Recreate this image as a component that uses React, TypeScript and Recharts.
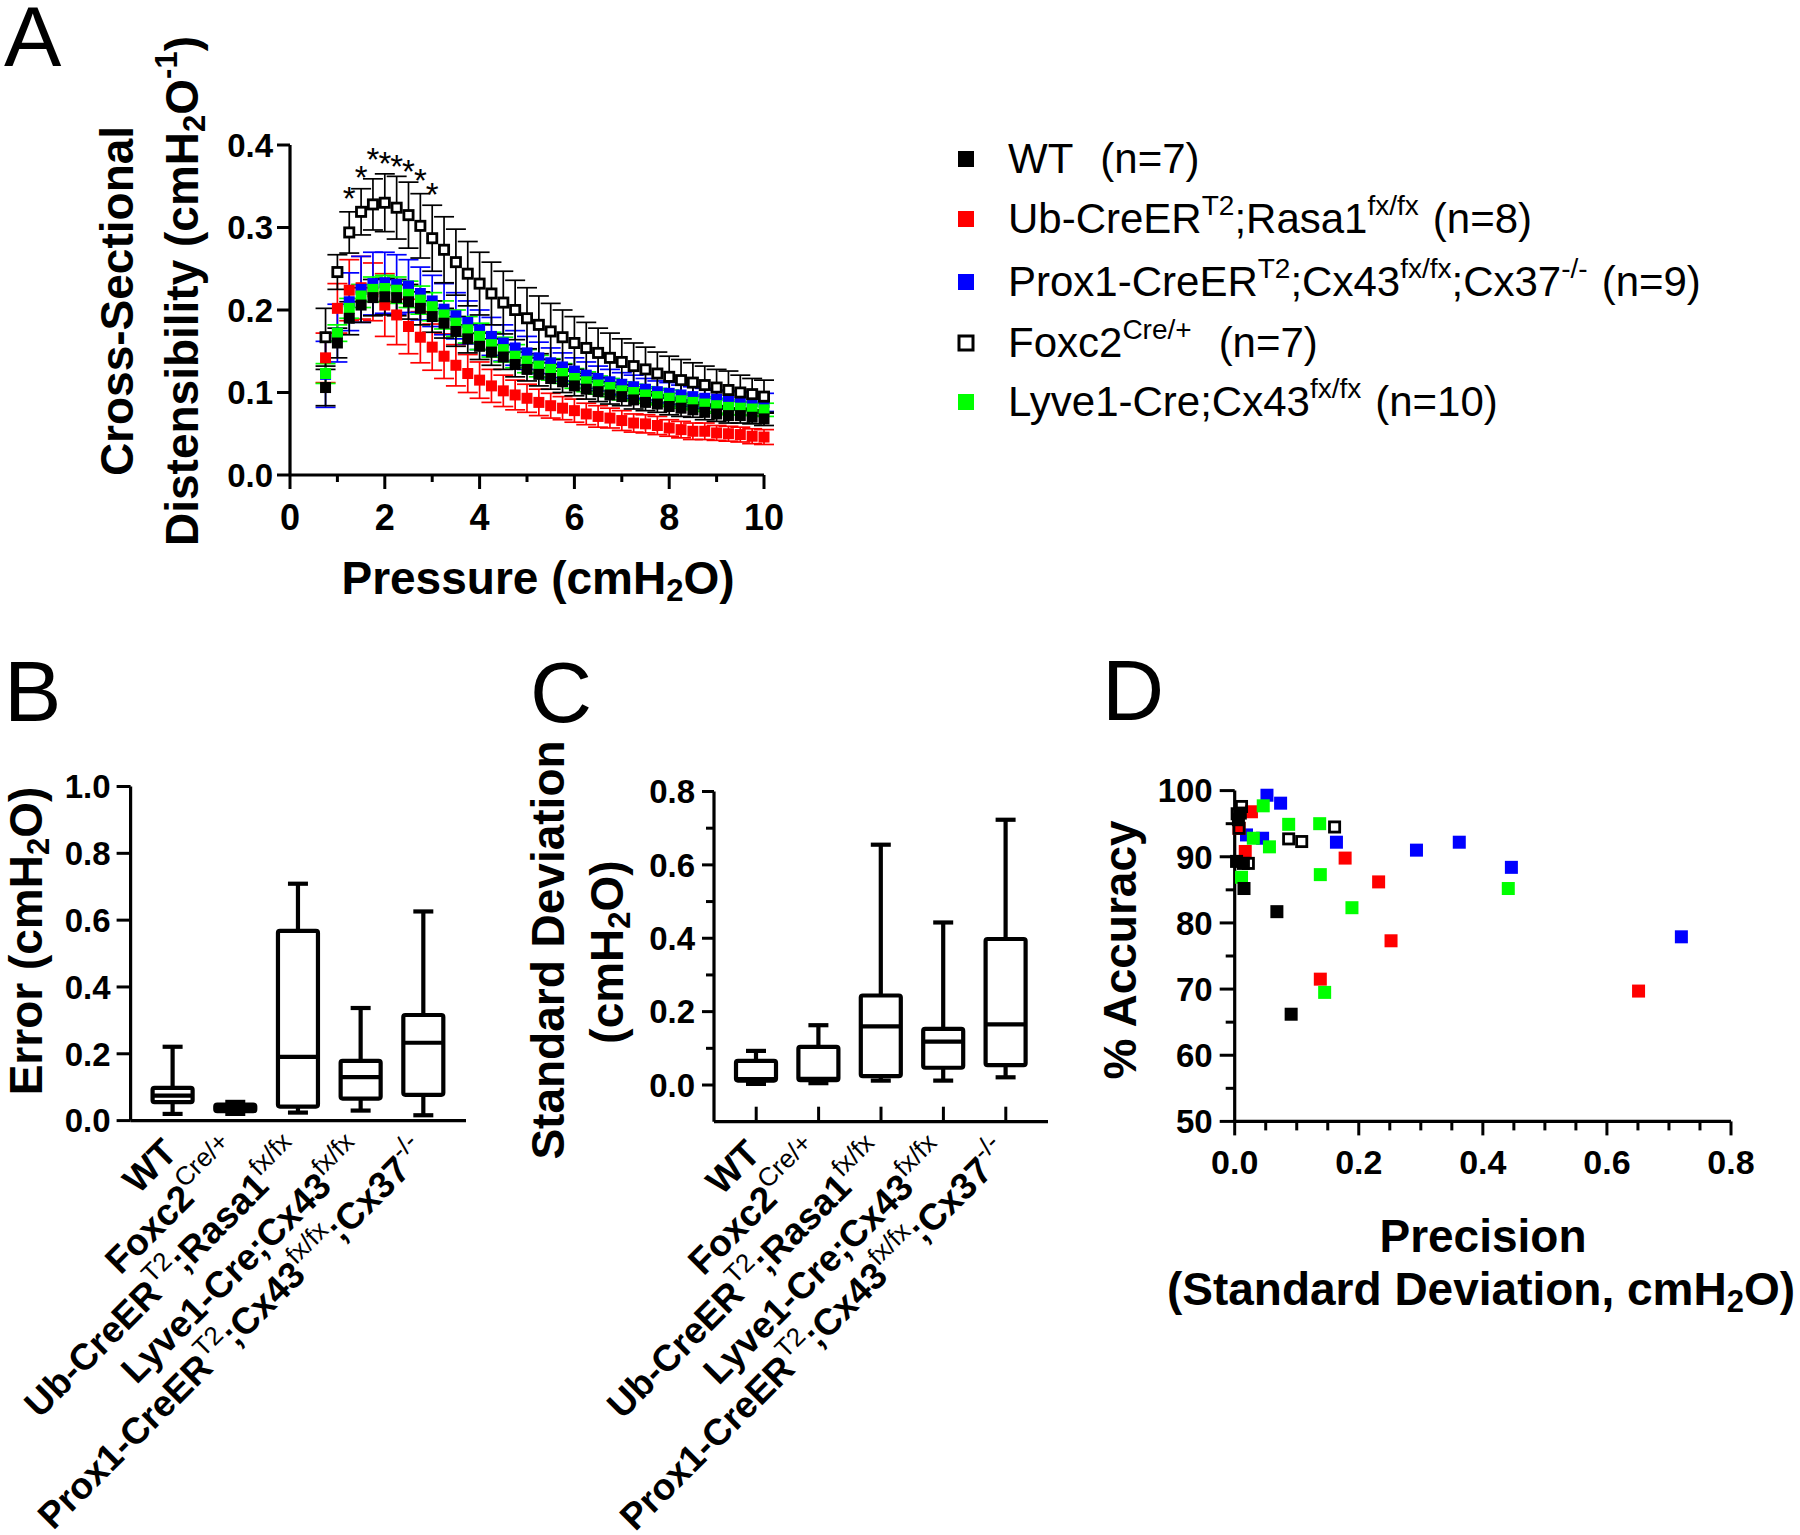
import React from 'react';
import { ScatterChart, Scatter, XAxis, YAxis, ErrorBar, BarChart, Bar } from 'recharts';

const FONT = "'Liberation Sans', Arial, Helvetica, sans-serif";
const BLACK = '#000000';
const RED = '#FF0000';
const BLUE = '#0000FF';
const GREEN = '#00FF00';

// ---------- Panel A data ----------
const pressure = [0.75, 1, 1.25, 1.5, 1.75, 2, 2.25, 2.5, 2.75, 3, 3.25, 3.5, 3.75, 4, 4.25, 4.5, 4.75, 5, 5.25, 5.5, 5.75, 6, 6.25, 6.5, 6.75, 7, 7.25, 7.5, 7.75, 8, 8.25, 8.5, 8.75, 9, 9.25, 9.5, 9.75, 10];
const wtMean = [0.106, 0.160, 0.190, 0.206, 0.215, 0.216, 0.215, 0.210, 0.202, 0.192, 0.184, 0.174, 0.165, 0.156, 0.149, 0.143, 0.134, 0.128, 0.122, 0.117, 0.113, 0.108, 0.104, 0.101, 0.097, 0.095, 0.091, 0.088, 0.086, 0.083, 0.081, 0.079, 0.076, 0.074, 0.072, 0.072, 0.070, 0.068];
const wtSem = [0.022, 0.018, 0.020, 0.021, 0.022, 0.022, 0.022, 0.021, 0.020, 0.019, 0.018, 0.018, 0.017, 0.016, 0.016, 0.015, 0.015, 0.014, 0.014, 0.013, 0.013, 0.012, 0.012, 0.012, 0.011, 0.011, 0.011, 0.010, 0.010, 0.010, 0.010, 0.009, 0.009, 0.009, 0.009, 0.009, 0.008, 0.008];
const ubMean = [0.142, 0.202, 0.224, 0.227, 0.222, 0.206, 0.194, 0.180, 0.167, 0.155, 0.144, 0.133, 0.123, 0.115, 0.108, 0.102, 0.097, 0.093, 0.088, 0.084, 0.081, 0.078, 0.074, 0.071, 0.069, 0.066, 0.063, 0.062, 0.060, 0.057, 0.055, 0.053, 0.053, 0.051, 0.050, 0.049, 0.047, 0.046];
const ubSem = [0.030, 0.030, 0.037, 0.038, 0.035, 0.038, 0.036, 0.033, 0.031, 0.028, 0.027, 0.025, 0.023, 0.022, 0.020, 0.019, 0.018, 0.017, 0.016, 0.015, 0.014, 0.014, 0.013, 0.013, 0.012, 0.012, 0.011, 0.011, 0.011, 0.010, 0.010, 0.010, 0.010, 0.009, 0.009, 0.009, 0.009, 0.009];
const proxMean = [0.122, 0.172, 0.210, 0.225, 0.232, 0.233, 0.231, 0.229, 0.220, 0.211, 0.201, 0.193, 0.185, 0.176, 0.168, 0.160, 0.154, 0.148, 0.142, 0.136, 0.131, 0.126, 0.121, 0.117, 0.113, 0.110, 0.107, 0.104, 0.101, 0.099, 0.097, 0.095, 0.093, 0.092, 0.091, 0.090, 0.089, 0.088];
const proxSem = [0.040, 0.035, 0.035, 0.040, 0.038, 0.037, 0.036, 0.032, 0.032, 0.031, 0.031, 0.028, 0.026, 0.024, 0.023, 0.022, 0.021, 0.020, 0.019, 0.018, 0.017, 0.016, 0.016, 0.015, 0.015, 0.014, 0.014, 0.013, 0.013, 0.013, 0.012, 0.012, 0.012, 0.011, 0.011, 0.011, 0.011, 0.011];
const foxMean = [0.167, 0.246, 0.294, 0.319, 0.328, 0.330, 0.324, 0.315, 0.302, 0.287, 0.273, 0.258, 0.244, 0.232, 0.220, 0.209, 0.200, 0.190, 0.182, 0.174, 0.167, 0.160, 0.154, 0.148, 0.142, 0.137, 0.132, 0.128, 0.123, 0.119, 0.115, 0.112, 0.109, 0.106, 0.103, 0.100, 0.098, 0.095];
const foxSem = [0.035, 0.021, 0.025, 0.028, 0.031, 0.035, 0.038, 0.040, 0.039, 0.040, 0.040, 0.040, 0.039, 0.038, 0.038, 0.038, 0.036, 0.037, 0.035, 0.034, 0.033, 0.032, 0.031, 0.030, 0.030, 0.028, 0.028, 0.027, 0.026, 0.025, 0.025, 0.024, 0.023, 0.022, 0.023, 0.021, 0.019, 0.020];
const lyveMean = [0.123, 0.172, 0.202, 0.217, 0.225, 0.226, 0.224, 0.219, 0.212, 0.204, 0.194, 0.184, 0.176, 0.168, 0.158, 0.152, 0.144, 0.138, 0.132, 0.128, 0.123, 0.117, 0.113, 0.109, 0.106, 0.102, 0.100, 0.097, 0.095, 0.093, 0.090, 0.088, 0.086, 0.084, 0.082, 0.081, 0.080, 0.079];
const lyveSem = [0.012, 0.010, 0.012, 0.014, 0.015, 0.016, 0.016, 0.016, 0.017, 0.017, 0.017, 0.016, 0.016, 0.016, 0.015, 0.015, 0.014, 0.014, 0.013, 0.013, 0.012, 0.012, 0.012, 0.011, 0.011, 0.011, 0.010, 0.010, 0.010, 0.010, 0.009, 0.009, 0.009, 0.009, 0.009, 0.008, 0.008, 0.008];
const starX = [1.25, 1.5, 1.75, 2, 2.25, 2.5, 2.75, 3];
const starY = [0.344, 0.370, 0.391, 0.387, 0.383, 0.377, 0.366, 0.349];
const aXTicks = [0, 1, 2, 3, 4, 5, 6, 7, 8, 9, 10];
const aYTicks = [0, 0.1, 0.2, 0.3, 0.4];

// ---------- Panels B and C data ----------
const groups = ['WT', 'Foxc2', 'Ub', 'Lyve1', 'Prox1'];
const errMin = [0.020, 0.020, 0.024, 0.030, 0.016];
const errQ1 = [0.055, 0.028, 0.042, 0.066, 0.077];
const errMed = [0.075, 0.038, 0.191, 0.130, 0.233];
const errQ3 = [0.098, 0.048, 0.568, 0.179, 0.316];
const errMax = [0.221, 0.056, 0.709, 0.337, 0.626];
const sdMin = [0.003, 0.005, 0.012, 0.012, 0.021];
const sdQ1 = [0.012, 0.013, 0.024, 0.047, 0.054];
const sdMed = [0.016, 0.017, 0.160, 0.118, 0.165];
const sdQ3 = [0.066, 0.104, 0.244, 0.153, 0.398];
const sdMax = [0.093, 0.163, 0.655, 0.443, 0.723];
const bTicks = [0, 0.2, 0.4, 0.6, 0.8, 1.0];
const cTicks = [0, 0.1, 0.2, 0.3, 0.4, 0.5, 0.6, 0.7, 0.8];

// ---------- Panel D data ----------
const wtPrec = [0.009, 0.003, 0.014, 0.015, 0.068, 0.091, 0.006];
const wtAcc = [96.6, 89.3, 89.0, 85.2, 81.7, 66.2, 95.6];
const ubPrec = [0.027, 0.007, 0.017, 0.178, 0.232, 0.252, 0.138, 0.651];
const ubAcc = [96.8, 94.3, 90.8, 89.8, 86.2, 77.3, 71.5, 69.7];
const proxPrec = [0.052, 0.074, 0.019, 0.045, 0.164, 0.293, 0.362, 0.446, 0.720];
const proxAcc = [99.3, 98.1, 93.3, 92.8, 92.2, 91.0, 92.2, 88.4, 77.9];
const lyvePrec = [0.046, 0.087, 0.137, 0.030, 0.056, 0.138, 0.189, 0.145, 0.441, 0.011];
const lyveAcc = [97.7, 94.9, 95.0, 92.8, 91.5, 87.3, 82.3, 69.5, 85.2, 86.9];
const foxPrec = [0.011, 0.007, 0.022, 0.087, 0.108, 0.161, 0.004];
const foxAcc = [97.6, 94.3, 89.0, 92.7, 92.3, 94.5, 96.5];
const dXTicks = [0, 0.05, 0.1, 0.15, 0.2, 0.25, 0.3, 0.35, 0.4, 0.45, 0.5, 0.55, 0.6, 0.65, 0.7, 0.75, 0.8];
const dYTicks = [50, 55, 60, 65, 70, 75, 80, 85, 90, 95, 100];

// ---------- text helpers ----------
type Seg = { t: string; s?: 'sup' | 'sub'; dx?: number };
type SpanCfg = { fs: number; w: number; ss: number; sw: number; up: number; down: number };

function spans(segs: Seg[], cfg: SpanCfg) {
  let cur = 0;
  return segs.map((sg, i) => {
    const target = sg.s === 'sup' ? -cfg.up : sg.s === 'sub' ? cfg.down : 0;
    const dy = target - cur;
    cur = target;
    const small = !!sg.s;
    return (
      <tspan key={i} dy={dy} dx={sg.dx} fontSize={small ? cfg.ss : cfg.fs} fontWeight={small ? cfg.sw : cfg.w}>
        {sg.t}
      </tspan>
    );
  });
}

const groupLabels: Record<string, Seg[]> = {
  WT: [{ t: 'WT' }],
  Foxc2: [{ t: 'Foxc2' }, { t: 'Cre/+', s: 'sup' }],
  Ub: [{ t: 'Ub-CreER' }, { t: 'T2', s: 'sup' }, { t: ';Rasa1' }, { t: 'fx/fx', s: 'sup' }],
  Lyve1: [{ t: 'Lyve1-Cre;Cx43' }, { t: 'fx/fx', s: 'sup' }],
  Prox1: [{ t: 'Prox1-CreER' }, { t: 'T2', s: 'sup' }, { t: ';Cx43' }, { t: 'fx/fx', s: 'sup' }, { t: ';Cx37' }, { t: '-/-', s: 'sup' }],
};

const legendLabels: Seg[][] = [
  [{ t: 'WT' }, { t: '(n=7)', dx: 27 }],
  [{ t: 'Ub-CreER' }, { t: 'T2', s: 'sup' }, { t: ';Rasa1' }, { t: 'fx/fx', s: 'sup' }, { t: '(n=8)', dx: 14 }],
  [{ t: 'Prox1-CreER' }, { t: 'T2', s: 'sup' }, { t: ';Cx43' }, { t: 'fx/fx', s: 'sup' }, { t: ';Cx37' }, { t: '-/-', s: 'sup' }, { t: '(n=9)', dx: 14 }],
  [{ t: 'Foxc2' }, { t: 'Cre/+', s: 'sup' }, { t: '(n=7)', dx: 27 }],
  [{ t: 'Lyve1-Cre;Cx43' }, { t: 'fx/fx', s: 'sup' }, { t: '(n=10)', dx: 14 }],
];
const legendColors = [BLACK, RED, BLUE, BLACK, GREEN];
const legendOpen = [false, false, false, true, false];
const legendBaselines = [173, 233, 296, 357, 416];

// ---------- tick factories ----------
type TickOpts = { isMajor: (v: number) => boolean; major: number; minor: number; gap: number; fs: number; fmt: (v: number) => string; sw: number; base?: number };

function yTick(o: TickOpts) {
  return (p: any) => {
    const v = Number(p.payload.value);
    const mj = o.isMajor(v);
    const len = mj ? o.major : o.minor;
    return (
      <g>
        <line x1={p.x} y1={p.y} x2={p.x - len} y2={p.y} stroke={BLACK} strokeWidth={o.sw} />
        {mj && (
          <text x={p.x - o.major - o.gap} y={p.y + o.fs * 0.358} textAnchor="end" fontFamily={FONT} fontWeight={700} fontSize={o.fs} fill={BLACK}>
            {o.fmt(v)}
          </text>
        )}
      </g>
    );
  };
}

function xTick(o: TickOpts) {
  return (p: any) => {
    const v = Number(p.payload.value);
    const mj = o.isMajor(v);
    const len = mj ? o.major : o.minor;
    return (
      <g>
        <line x1={p.x} y1={p.y} x2={p.x} y2={p.y + len} stroke={BLACK} strokeWidth={o.sw} />
        {mj && (
          <text x={p.x} y={p.y + (o.base || 50)} textAnchor="middle" fontFamily={FONT} fontWeight={700} fontSize={o.fs} fill={BLACK}>
            {o.fmt(v)}
          </text>
        )}
      </g>
    );
  };
}

const catCfg: SpanCfg = { fs: 37, w: 700, ss: 26, sw: 400, up: 16, down: 0 };
function catTick(inward: boolean) {
  return (p: any) => {
    const segs = groupLabels[String(p.payload.value)] || [];
    const px = p.x + 6;
    const py = p.y + 34;
    return (
      <g>
        {inward && <line x1={p.x} y1={p.y} x2={p.x} y2={p.y - 15} stroke={BLACK} strokeWidth={3} />}
        <text x={px} y={py} transform={`rotate(-45 ${px} ${py})`} textAnchor="end" fontFamily={FONT} fill={BLACK}>
          {spans(segs, catCfg)}
        </text>
      </g>
    );
  };
}

// ---------- shapes ----------
const squareShape = (color: string, size: number, open: boolean, sw: number) => (p: any) => {
  if (open) {
    const s = size - sw;
    return <rect x={p.cx - s / 2} y={p.cy - s / 2} width={s} height={s} fill="#fff" stroke={BLACK} strokeWidth={sw} />;
  }
  return <rect x={p.cx - size / 2} y={p.cy - size / 2} width={size} height={size} fill={color} />;
};
const openSquareD = (size: number, sw: number) => (p: any) => {
  const s = size - sw;
  return <rect x={p.cx - s / 2} y={p.cy - s / 2} width={s} height={s} fill="none" stroke={BLACK} strokeWidth={sw} />;
};
const starShape = (p: any) => (
  <text x={p.cx} y={p.cy + 19} textAnchor="middle" fontFamily={FONT} fontSize={33} fill={BLACK}>
    *
  </text>
);

const boxShape = (p: any) => {
  const d = p.payload;
  const top = Math.min(p.y, p.y + p.height);
  const bot = Math.max(p.y, p.y + p.height);
  const span = d.max - d.min;
  const py = (v: number) => (span === 0 ? top : top + ((d.max - v) / span) * (bot - top));
  const cx = p.x + p.width / 2;
  const hw = p.width / 2;
  const cap = 10;
  const sw = 4.2;
  return (
    <g stroke={BLACK} strokeWidth={sw} strokeLinejoin="round" strokeLinecap="butt">
      <line x1={cx} x2={cx} y1={py(d.max)} y2={py(d.q3)} />
      <line x1={cx} x2={cx} y1={py(d.q1)} y2={py(d.min)} />
      <line x1={cx - cap} x2={cx + cap} y1={py(d.max)} y2={py(d.max)} />
      <line x1={cx - cap} x2={cx + cap} y1={py(d.min)} y2={py(d.min)} />
      <rect x={cx - hw} y={py(d.q3)} width={2 * hw} height={py(d.q1) - py(d.q3)} fill="#fff" rx={2} />
      <line x1={cx - hw} x2={cx + hw} y1={py(d.med)} y2={py(d.med)} />
    </g>
  );
};

// ---------- derived datasets ----------
const mk = (m: number[], s: number[]) => pressure.map((x, i) => ({ x, y: m[i], e: s[i] }));
const seriesA = [
  { key: 'ub', color: RED, data: mk(ubMean, ubSem), open: false },
  { key: 'prox', color: BLUE, data: mk(proxMean, proxSem), open: false },
  { key: 'lyve', color: GREEN, data: mk(lyveMean, lyveSem), open: false },
  { key: 'wt', color: BLACK, data: mk(wtMean, wtSem), open: false },
  { key: 'fox', color: BLACK, data: mk(foxMean, foxSem), open: true },
];
const stars = starX.map((x, i) => ({ x, y: starY[i] }));

const errBoxes = groups.map((g, i) => ({ name: g, min: errMin[i], q1: errQ1[i], med: errMed[i], q3: errQ3[i], max: errMax[i] }));
const sdBoxes = groups.map((g, i) => ({ name: g, min: sdMin[i], q1: sdQ1[i], med: sdMed[i], q3: sdQ3[i], max: sdMax[i] }));

const mkD = (xs: number[], ys: number[]) => xs.map((x, i) => ({ x, y: ys[i] }));
const seriesD = [
  { key: 'prox', color: BLUE, data: mkD(proxPrec, proxAcc), open: false },
  { key: 'ub', color: RED, data: mkD(ubPrec, ubAcc), open: false },
  { key: 'lyve', color: GREEN, data: mkD(lyvePrec, lyveAcc), open: false },
  { key: 'fox', color: BLACK, data: mkD(foxPrec, foxAcc), open: true },
  { key: 'wt', color: BLACK, data: mkD(wtPrec, wtAcc), open: false },
];

const axisLine = { stroke: BLACK, strokeWidth: 3.2 };
const titleCfg: SpanCfg = { fs: 46, w: 700, ss: 31, sw: 700, up: 21, down: 7 };
const legendCfg: SpanCfg = { fs: 42, w: 400, ss: 28, sw: 400, up: 18, down: 0 };

// axis box sizes (must be positive for recharts to draw the axis)
const AW = 2;

export default function App() {
  return (
    <div style={{ position: 'absolute', left: 0, top: 0, width: 1800, height: 1535, background: '#fff', overflow: 'hidden' }}>
      {/* Panel A */}
      <div style={{ position: 'absolute', left: 0, top: 0 }}>
        <ScatterChart width={800} height={640} margin={{ top: 145, left: 290 - AW, right: 36, bottom: 165 - AW }}>
          <XAxis
            type="number"
            dataKey="x"
            domain={[0, 10]}
            ticks={aXTicks}
            interval={0}
            height={AW}
            tickSize={0}
            tickMargin={0}
            tickLine={false}
            axisLine={axisLine}
            tick={xTick({ isMajor: (v) => v % 2 === 0, major: 14, minor: 7, gap: 0, fs: 36, fmt: (v) => String(v), sw: 3, base: 55 })}
          />
          <YAxis
            type="number"
            dataKey="y"
            domain={[0, 0.4]}
            ticks={aYTicks}
            interval={0}
            width={AW}
            tickSize={0}
            tickMargin={0}
            tickLine={false}
            axisLine={axisLine}
            tick={yTick({ isMajor: () => true, major: 13, minor: 13, gap: 4, fs: 33, fmt: (v) => v.toFixed(1), sw: 3 })}
          />
          {seriesA.map((s) => (
            <Scatter key={s.key} data={s.data} isAnimationActive={false} shape={squareShape(s.color, s.open ? 12 : 11, s.open, 2.8)}>
              <ErrorBar dataKey="e" direction="y" width={10} stroke={s.color} strokeWidth={1.7} />
            </Scatter>
          ))}
          <Scatter data={stars} isAnimationActive={false} shape={starShape} />
        </ScatterChart>
      </div>

      {/* Panel B */}
      <div style={{ position: 'absolute', left: 0, top: 700 }}>
        <BarChart width={520} height={835} data={errBoxes} barSize={40} margin={{ top: 86.5, left: 130.6 - AW, right: 54, bottom: 414.4 - AW }}>
          <XAxis
            dataKey="name"
            type="category"
            padding={{ left: 11, right: 11 }}
            interval={0}
            height={AW}
            tickSize={0}
            tickMargin={0}
            tickLine={false}
            axisLine={axisLine}
            tick={catTick(false)}
          />
          <YAxis
            type="number"
            domain={[0, 1]}
            ticks={bTicks}
            interval={0}
            width={AW}
            tickSize={0}
            tickMargin={0}
            tickLine={false}
            axisLine={axisLine}
            tick={yTick({ isMajor: () => true, major: 14, minor: 14, gap: 6, fs: 33, fmt: (v) => v.toFixed(1), sw: 3 })}
          />
          <Bar dataKey={(d: any) => [d.min, d.max]} isAnimationActive={false} shape={boxShape} />
        </BarChart>
      </div>

      {/* Panel C */}
      <div style={{ position: 'absolute', left: 520, top: 700 }}>
        <BarChart width={560} height={835} data={sdBoxes} barSize={40} margin={{ top: 91.5, left: 194 - AW, right: 32, bottom: 413.3 - AW }}>
          <XAxis
            dataKey="name"
            type="category"
            padding={{ left: 11, right: 11 }}
            interval={0}
            height={AW}
            tickSize={0}
            tickMargin={0}
            tickLine={false}
            axisLine={axisLine}
            tick={catTick(true)}
          />
          <YAxis
            type="number"
            domain={[-0.1, 0.8]}
            ticks={cTicks}
            interval={0}
            width={AW}
            tickSize={0}
            tickMargin={0}
            tickLine={false}
            axisLine={axisLine}
            tick={yTick({ isMajor: (v) => Math.round(v * 10) % 2 === 0, major: 12, minor: 8, gap: 7, fs: 33, fmt: (v) => v.toFixed(1), sw: 3 })}
          />
          <Bar dataKey={(d: any) => [d.min, d.max]} isAnimationActive={false} shape={boxShape} />
        </BarChart>
      </div>

      {/* Panel D */}
      <div style={{ position: 'absolute', left: 1080, top: 660 }}>
        <ScatterChart width={720} height={700} margin={{ top: 130.6, left: 154.7 - AW, right: 69, bottom: 238.6 - AW }}>
          <XAxis
            type="number"
            dataKey="x"
            domain={[0, 0.8]}
            ticks={dXTicks}
            interval={0}
            height={AW}
            tickSize={0}
            tickMargin={0}
            tickLine={false}
            axisLine={axisLine}
            tick={xTick({ isMajor: (v) => Math.abs(v * 5 - Math.round(v * 5)) < 1e-6, major: 14, minor: 9, gap: 0, fs: 34, fmt: (v) => v.toFixed(1), sw: 3, base: 53 })}
          />
          <YAxis
            type="number"
            dataKey="y"
            domain={[50, 100]}
            ticks={dYTicks}
            interval={0}
            width={AW}
            tickSize={0}
            tickMargin={0}
            tickLine={false}
            axisLine={axisLine}
            tick={yTick({ isMajor: (v) => v % 10 === 0, major: 15, minor: 9, gap: 7, fs: 33, fmt: (v) => String(v), sw: 3 })}
          />
          {seriesD.map((s) => (
            <Scatter
              key={s.key}
              data={s.data}
              isAnimationActive={false}
              shape={s.open ? openSquareD(13, 2.8) : squareShape(s.color, 13, false, 0)}
            />
          ))}
        </ScatterChart>
      </div>

      {/* Titles, letters, legend */}
      <svg width={1800} height={1535} style={{ position: 'absolute', left: 0, top: 0, pointerEvents: 'none' }} fontFamily={FONT} fill={BLACK}>
        <text x={4} y={66} fontSize={86}>A</text>
        <text x={4} y={721} fontSize={86}>B</text>
        <text x={530} y={722} fontSize={86}>C</text>
        <text x={1102} y={720} fontSize={86}>D</text>

        {/* Panel A titles */}
        <text transform="translate(133,301) rotate(-90)" textAnchor="middle" fontSize={46} fontWeight={700}>Cross-Sectional</text>
        <text transform="translate(198,291) rotate(-90)" textAnchor="middle">
          {spans([{ t: 'Distensibility (cmH' }, { t: '2', s: 'sub' }, { t: 'O' }, { t: '-1', s: 'sup' }, { t: ')' }], titleCfg)}
        </text>
        <text x={538} y={594} textAnchor="middle">
          {spans([{ t: 'Pressure (cmH' }, { t: '2', s: 'sub' }, { t: 'O)' }], titleCfg)}
        </text>

        {/* Legend */}
        {legendLabels.map((segs, i) => {
          const by = legendBaselines[i];
          const cy = by - 14;
          return (
            <g key={i}>
              {legendOpen[i] ? (
                <rect x={966 - 7} y={cy - 7} width={14} height={14} fill="#fff" stroke={BLACK} strokeWidth={3} />
              ) : (
                <rect x={966 - 8} y={cy - 8} width={16} height={16} fill={legendColors[i]} />
              )}
              <text x={1008} y={by}>{spans(segs, legendCfg)}</text>
            </g>
          );
        })}

        {/* Panel B title */}
        <text transform="translate(42,941) rotate(-90)" textAnchor="middle">
          {spans([{ t: 'Error (cmH' }, { t: '2', s: 'sub' }, { t: 'O)' }], titleCfg)}
        </text>

        {/* Panel C title */}
        <text transform="translate(564,950) rotate(-90)" textAnchor="middle" fontSize={46} fontWeight={700}>Standard Deviation</text>
        <text transform="translate(623,952) rotate(-90)" textAnchor="middle">
          {spans([{ t: '(cmH' }, { t: '2', s: 'sub' }, { t: 'O)' }], titleCfg)}
        </text>

        {/* Panel D titles */}
        <text transform="translate(1136,950) rotate(-90)" textAnchor="middle" fontSize={46} fontWeight={700}>% Accuracy</text>
        <text x={1483} y={1252} textAnchor="middle" fontSize={46} fontWeight={700}>Precision</text>
        <text x={1481} y={1305} textAnchor="middle">
          {spans([{ t: '(Standard Deviation, cmH' }, { t: '2', s: 'sub' }, { t: 'O)' }], titleCfg)}
        </text>
      </svg>
    </div>
  );
}
